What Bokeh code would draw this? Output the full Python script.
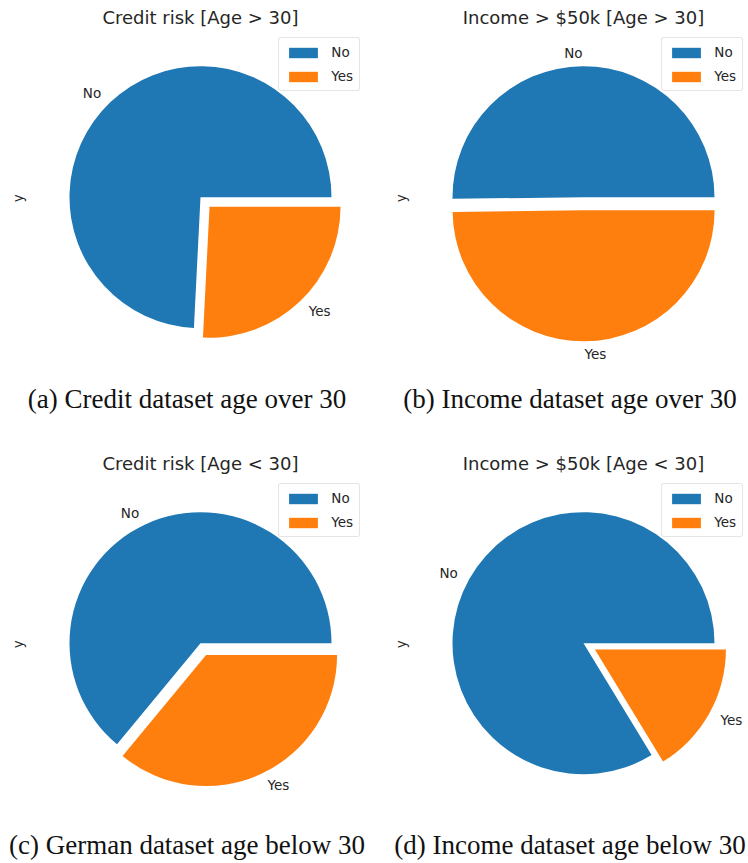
import math

from bokeh.core.properties import value
from bokeh.embed import file_html
from bokeh.layouts import gridplot
from bokeh.models import ColumnDataSource, Label, Legend, LegendItem, Range1d
from bokeh.plotting import figure
from bokeh.resources import INLINE

# ---- data -------------------------------------------------------------
categories = ["No", "Yes"]
panel_titles = [
    "Credit risk [Age > 30]",
    "Income > $50k [Age > 30]",
    "Credit risk [Age < 30]",
    "Income > $50k [Age < 30]",
]
captions = [
    "(a) Credit dataset age over 30",
    "(b) Income dataset age over 30",
    "(c) German dataset age below 30",
    "(d) Income dataset age below 30",
]
share_no = [0.742, 0.502, 0.640, 0.837]
share_yes = [0.258, 0.498, 0.360, 0.163]
explode = [0.0, 0.1]
colors = ["#1f77b4", "#ff7f0e"]

# ---- styling ----------------------------------------------------------
SANS = "DejaVu Sans"
SERIF = "Liberation Serif"
TEXT_COLOR = "#262626"
R = 131.0          # pie radius; one data unit is one screen pixel
CY_TOP = 196.7     # distance from the top of each panel to the pie centre
CX_LEFT = 200.0    # distance from the left of each panel to the pie centre


def make_panel(i, width, height):
    p = figure(
        width=width, height=height,
        x_range=Range1d(-CX_LEFT, width - CX_LEFT),
        y_range=Range1d(CY_TOP - height, CY_TOP),
        x_axis_type=None, y_axis_type=None,
        toolbar_location=None, output_backend="svg",
        min_border=0, outline_line_color=None,
        background_fill_color="white", border_fill_color="white",
    )
    p.grid.visible = False

    vals = [share_no[i], share_yes[i]]
    total = sum(vals)
    xs, ys, starts, ends = [], [], [], []
    lx, ly, aligns = [], [], []
    a0 = 0.0
    for k, v in enumerate(vals):
        a1 = a0 + 2 * math.pi * v / total
        mid = 0.5 * (a0 + a1)
        off = explode[k] * R
        cx, cy = off * math.cos(mid), off * math.sin(mid)
        xs.append(cx)
        ys.append(cy)
        starts.append(a0)
        ends.append(a1)
        tx = cx + 1.1 * R * math.cos(mid)
        ty = cy + 1.1 * R * math.sin(mid)
        lx.append(tx)
        ly.append(ty)
        aligns.append("left" if tx > 0 else "right")
        a0 = a1

    src = ColumnDataSource(dict(x=xs, y=ys, start=starts, end=ends,
                                color=colors, label=categories))
    wedges = p.wedge(x="x", y="y", radius=R, start_angle="start",
                     end_angle="end", direction="anticlock",
                     fill_color="color", line_color=None, source=src)

    lab_src = ColumnDataSource(dict(x=lx, y=ly, text=categories, align=aligns))
    p.text(x="x", y="y", text="text", source=lab_src, text_align="align",
           text_baseline="middle", text_font=value(SANS),
           text_font_size="13.5px", text_color=TEXT_COLOR)

    # panel title
    p.add_layout(Label(x=0, y=179.5, text=panel_titles[i], text_align="center",
                       text_baseline="middle", text_font=SANS,
                       text_font_size="18px", text_color=TEXT_COLOR))
    # series name on the left, as pandas draws it
    p.add_layout(Label(x=-183, y=-1, text="y", angle=math.pi / 2,
                       text_align="center", text_baseline="middle",
                       text_font=SANS, text_font_size="13.5px",
                       text_color=TEXT_COLOR))
    # sub-figure caption
    p.add_layout(Label(x=-13.5, y=-201.5, text=captions[i], text_align="center",
                       text_baseline="middle", text_font=SERIF,
                       text_font_size="27px", text_color="#111111"))

    legend = Legend(
        items=[LegendItem(label=categories[k], renderers=[wedges], index=k)
               for k in range(len(categories))],
        location=(278.3, height - 40 - 51),
        orientation="vertical",
        glyph_width=36, glyph_height=13,
        label_standoff=10, spacing=8, padding=6, margin=0,
        label_text_font=SANS, label_text_font_size="13.5px",
        label_text_color=TEXT_COLOR,
        border_line_color="#cccccc", border_line_width=1,
        background_fill_color="white", background_fill_alpha=0.8,
    )
    if hasattr(legend, "border_radius"):
        legend.border_radius = 3
    p.add_layout(legend, "center")
    return p


W_LEFT, W_RIGHT = 383, 365
H_TOP, H_BOTTOM = 446, 417

panels = [
    make_panel(0, W_LEFT, H_TOP),
    make_panel(1, W_RIGHT, H_TOP),
    make_panel(2, W_LEFT, H_BOTTOM),
    make_panel(3, W_RIGHT, H_BOTTOM),
]

grid = gridplot([[panels[0], panels[1]], [panels[2], panels[3]]],
                toolbar_location=None)

open("out.html", "w").write(file_html(grid, INLINE))
